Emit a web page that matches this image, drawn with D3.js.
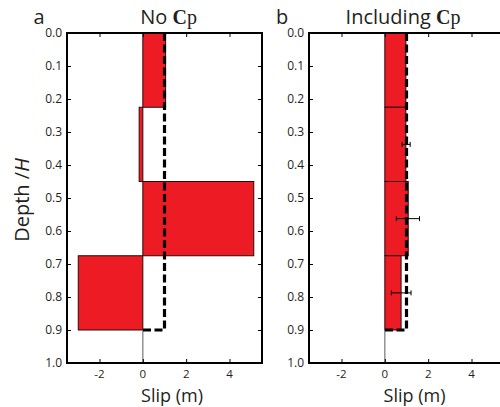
<!DOCTYPE html>
<html>
<head>
<meta charset="utf-8">
<script src="https://d3js.org/d3.v7.min.js"></script>
<style>
html,body{margin:0;padding:0;background:#fff;}
svg{display:block;}
text{font-family:"Open Sans",sans-serif;fill:#231f20;}
</style>
</head>
<body>
<div id="chart"></div>
<script>
// ---- data ----
const depthEdges = [0, 0.225, 0.45, 0.675, 0.9];
const slipNoCp = [1.05, -0.17, 5.12, -2.98];
const slipWithCp = [0.97, 0.97, 1.08, 0.75];
const errLowWithCp = [null, 0.80, 0.53, 0.30];
const errHighWithCp = [null, 1.17, 1.60, 1.21];
const trueSlip = 1.0;
const trueSlipBottom = 0.9;
const xTicks = [-2, 0, 2, 4];
const yTicks = [0, 0.1, 0.2, 0.3, 0.4, 0.5, 0.6, 0.7, 0.8, 0.9, 1.0];
const panelLetters = ["a", "b"];
const panelTitles = ["No ", "Including "];
const xLabel = "Slip (m)";

const W = 500, H = 407;
const svg = d3.select("#chart").append("svg").attr("width", W).attr("height", H);

const y = d3.scaleLinear().domain([0, 1]).range([33, 363]);

const panels = [
  {x0: 67, x1: 262, slip: slipNoCp, lo: null, hi: null, titleX: 168.5, letterX: 39, labelX: 172},
  {x0: 309, x1: 504, slip: slipWithCp, lo: errLowWithCp, hi: errHighWithCp, titleX: 403, letterX: 282, labelX: 414.5}
];

panels.forEach((p, pi) => {
  const x = d3.scaleLinear().domain([-3.5, 5.5]).range([p.x0, p.x1]);
  const g = svg.append("g");

  // bars
  const bars = p.slip.map((s, i) => ({s, d0: depthEdges[i], d1: depthEdges[i + 1]}));
  g.selectAll("rect.bar").data(bars).enter().append("rect")
    .attr("x", d => x(Math.min(0, d.s)))
    .attr("y", d => y(d.d0))
    .attr("width", d => Math.abs(x(d.s) - x(0)))
    .attr("height", d => y(d.d1) - y(d.d0))
    .attr("fill", "#ed1c24")
    .attr("stroke", "#2b0a0a")
    .attr("stroke-width", 1);

  // zero line below fault bottom
  g.append("line")
    .attr("x1", x(0)).attr("x2", x(0))
    .attr("y1", y(trueSlipBottom)).attr("y2", y(1))
    .attr("stroke", "#777").attr("stroke-width", 1.2);

  // true slip dashed line
  const truePts = [[trueSlip, 0], [trueSlip, trueSlipBottom], [0, trueSlipBottom]];
  g.append("path")
    .attr("d", d3.line().x(d => x(d[0])).y(d => y(d[1]))(truePts))
    .attr("fill", "none")
    .attr("stroke", "#000")
    .attr("stroke-width", 3.2)
    .attr("stroke-dasharray", "8,3.5");

  // error bars
  if (p.lo) {
    const errs = p.lo.map((lo, i) => ({lo, hi: p.hi[i], d: (depthEdges[i] + depthEdges[i + 1]) / 2}))
      .filter(e => e.lo !== null);
    const eg = g.selectAll("g.err").data(errs).enter().append("g");
    eg.append("line")
      .attr("x1", d => x(d.lo)).attr("x2", d => x(d.hi))
      .attr("y1", d => y(d.d)).attr("y2", d => y(d.d))
      .attr("stroke", "#000").attr("stroke-width", 1);
    eg.append("line")
      .attr("x1", d => x(d.lo)).attr("x2", d => x(d.lo))
      .attr("y1", d => y(d.d) - 2.5).attr("y2", d => y(d.d) + 2.5)
      .attr("stroke", "#000").attr("stroke-width", 1);
    eg.append("line")
      .attr("x1", d => x(d.hi)).attr("x2", d => x(d.hi))
      .attr("y1", d => y(d.d) - 2.5).attr("y2", d => y(d.d) + 2.5)
      .attr("stroke", "#000").attr("stroke-width", 1);
  }

  // axes (inward ticks)
  const tickLen = 4;
  const axB = d3.axisTop(x).tickValues(xTicks).tickSize(tickLen).tickFormat("");
  const axT = d3.axisBottom(x).tickValues(xTicks).tickSize(tickLen).tickFormat("");
  const axL = d3.axisRight(y).tickValues(yTicks).tickSize(tickLen).tickFormat("");
  const axR = d3.axisLeft(y).tickValues(yTicks).tickSize(tickLen).tickFormat("");
  [[axB, `translate(0,${y(1)})`], [axT, `translate(0,${y(0)})`],
   [axL, `translate(${p.x0},0)`], [axR, `translate(${p.x1},0)`]].forEach(([ax, tr]) => {
    const a = g.append("g").attr("transform", tr).call(ax);
    a.select(".domain").remove();
    a.selectAll("line").attr("stroke", "#000").attr("stroke-width", 1);
  });

  // frame
  g.append("rect")
    .attr("x", p.x0).attr("y", y(0))
    .attr("width", p.x1 - p.x0).attr("height", y(1) - y(0))
    .attr("fill", "none").attr("stroke", "#000").attr("stroke-width", 2);

  // tick labels
  g.selectAll("text.yt").data(yTicks).enter().append("text")
    .attr("x", p.x0 - 5).attr("y", d => y(d) + 4.3)
    .attr("text-anchor", "end").attr("font-size", 12)
    .text(d => d3.format(".1f")(d));
  g.selectAll("text.xt").data(xTicks).enter().append("text")
    .attr("x", d => x(d)).attr("y", 378)
    .attr("text-anchor", "middle").attr("font-size", 11.5)
    .text(d => d);

  // x label
  g.append("text").attr("x", p.labelX).attr("y", 402)
    .attr("text-anchor", "middle").attr("font-size", 18).text(xLabel);

  // panel letter
  g.append("text").attr("x", p.letterX).attr("y", 24)
    .attr("text-anchor", "middle").attr("font-size", 20).text(panelLetters[pi]);

  // title
  const t = g.append("text").attr("x", p.titleX).attr("y", 24)
    .attr("text-anchor", "middle").attr("font-size", 20);
  t.append("tspan").text(panelTitles[pi]);
  t.append("tspan").attr("font-family", "'Liberation Serif',serif").attr("font-weight", "bold").text("C");
  t.append("tspan").attr("font-family", "'Liberation Serif',serif").text("p");
});

// y label
const yl = svg.append("text")
  .attr("transform", `translate(29,${y(0.5) + 2}) rotate(-90)`)
  .attr("text-anchor", "middle").attr("font-size", 20);
yl.append("tspan").text("Depth /");
yl.append("tspan").attr("font-style", "italic").text("H");
</script>
</body>
</html>
